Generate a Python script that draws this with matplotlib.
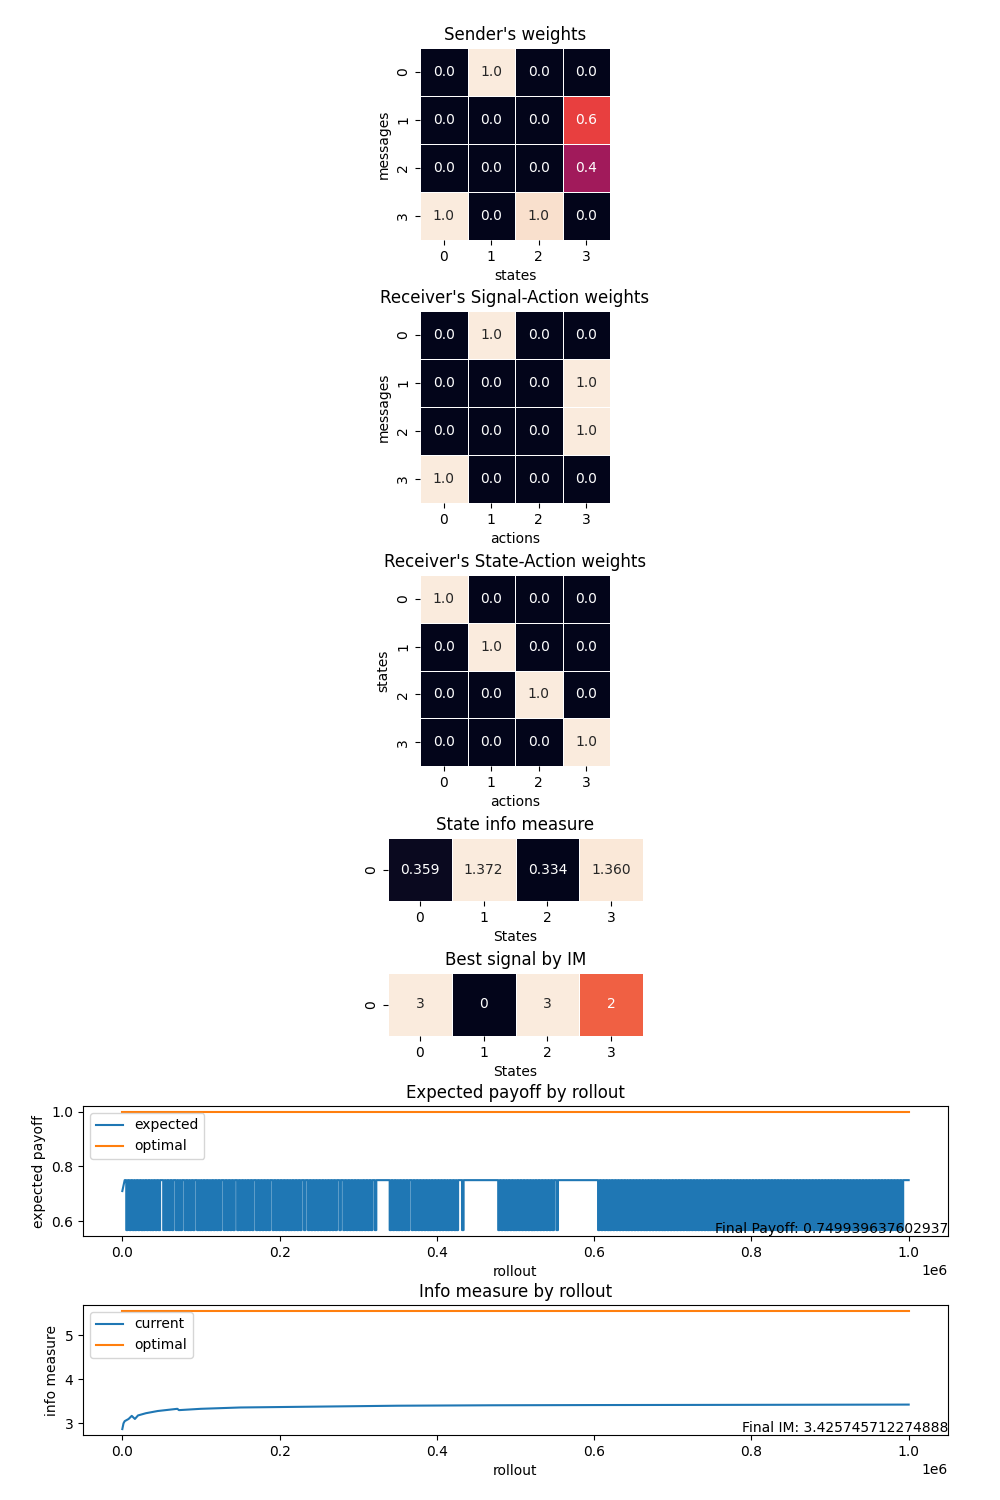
import numpy as np
import matplotlib
matplotlib.use("Agg")
import matplotlib.pyplot as plt
import seaborn as sns

sender_w = [[0.0, 1.0, 0.0, 0.0],
            [0.0, 0.0, 0.0, 0.6],
            [0.0, 0.0, 0.0, 0.4],
            [1.0, 0.0, 0.97, 0.0]]
recv_sig_act = [[0, 1, 0, 0], [0, 0, 0, 1], [0, 0, 0, 1], [1, 0, 0, 0]]
recv_state_act = [[1, 0, 0, 0], [0, 1, 0, 0], [0, 0, 1, 0], [0, 0, 0, 1]]
state_im = [[0.359, 1.372, 0.334, 1.360]]
best_signal = [[3, 0, 3, 2]]

# payoff: rollout (thousands) where the expected payoff dips to the low level
dip_starts_k = [5, 9, 13, 16, 20, 24, 27, 31, 35, 38, 42, 46, 52, 55, 59, 63, 68, 71, 74, 79,
                83, 86, 90, 95, 98, 101, 105, 109, 112, 116, 120, 124, 129, 133, 137, 141,
                146, 150, 154, 157, 161, 165, 170, 174, 178, 182, 186, 191, 195, 199, 203,
                207, 211, 214, 218, 222, 226, 231, 236, 240, 244, 248, 252, 256, 259, 263,
                267, 271, 276, 281, 285, 289, 293, 297, 301, 304, 308, 312, 316, 321, 340,
                344, 348, 351, 355, 359, 363, 368, 372, 376, 380, 384, 388, 391, 395, 399,
                403, 407, 411, 414, 418, 422, 425, 432, 478, 482, 486, 489, 493, 497, 500,
                504, 508, 512, 516, 520, 523, 527, 531, 535, 539, 543, 547, 552,
                605, 609, 613, 617, 620, 624, 628, 632, 636, 640, 643, 647, 651, 655, 659,
                663, 666, 670, 674, 678, 682, 686, 689, 693, 697, 701, 705, 709, 713, 717,
                720, 724, 728, 732, 736, 740, 744, 747, 751, 755, 759, 763, 767, 771, 775,
                779, 783, 787, 791, 795, 799, 803, 807, 811, 815, 819, 823, 827, 831, 835,
                839, 843, 847, 851, 855, 859, 863, 867, 871, 875, 879, 883, 887, 891, 895,
                899, 903, 907, 911, 915, 919, 923, 927, 931, 935, 939, 943, 947, 951, 955,
                959, 963, 967, 971, 975, 979, 983, 987, 991]
dip_len_k = 2
payoff_high = 0.75
payoff_low = 0.567
payoff_start = 0.71
final_payoff = 0.749939637602937

im_x = [0, 1500, 3000, 8000, 12000, 16000, 20000, 30000, 45000, 60000, 70000, 72000,
        100000, 150000, 250000, 350000, 470000, 600000, 800000, 1000000]
im_y = [2.87, 3.0, 3.05, 3.1, 3.17, 3.1, 3.18, 3.23, 3.28, 3.31, 3.33, 3.30,
        3.33, 3.36, 3.38, 3.40, 3.41, 3.415, 3.42, 3.4257]
im_optimal = 5.55
final_im = 3.425745712274888

fig = plt.figure(figsize=(10, 15), dpi=100)

def rect(x0, y0, x1, y1):
    return [x0 / 1000, 1 - y1 / 1500, (x1 - x0) / 1000, (y1 - y0) / 1500]

def hm(r, data, title, xl, yl, fmt, vmin=None, vmax=None):
    ax = fig.add_axes(rect(*r))
    sns.heatmap(data, ax=ax, annot=True, fmt=fmt, cbar=False, square=False,
                linewidths=0.5, linecolor="white", vmin=vmin, vmax=vmax)
    ax.set_title(title)
    ax.set_xlabel(xl)
    ax.set_ylabel(yl)

hm((420, 48, 610, 240), sender_w, "Sender's weights", "states", "messages", ".1f", 0, 1)
hm((420, 311, 610, 503), recv_sig_act, "Receiver's Signal-Action weights", "actions", "messages", ".1f", 0, 1)
hm((420, 575, 610, 766), recv_state_act, "Receiver's State-Action weights", "actions", "states", ".1f", 0, 1)
hm((388, 838, 643, 901), state_im, "State info measure", "States", "", ".3f")
hm((388, 973, 643, 1036), best_signal, "Best signal by IM", "States", "", "d")

xs = [0, 3000]
ys = [payoff_start, payoff_high]
for s in dip_starts_k:
    a = s * 1000
    xs += [a, a, a + dip_len_k * 1000, a + dip_len_k * 1000]
    ys += [payoff_high, payoff_low, payoff_low, payoff_high]
xs.append(1000000)
ys.append(payoff_high)
ax = fig.add_axes(rect(83, 1106, 948, 1236))
ax.plot(xs, ys, label="expected")
ax.plot([0, 1000000], [1.0, 1.0], label="optimal")
ax.set_title("Expected payoff by rollout")
ax.set_xlabel("rollout")
ax.set_ylabel("expected payoff")
ax.legend(loc="upper left")
ax.text(1, 0, f"Final Payoff: {final_payoff}", transform=ax.transAxes, ha="right", va="bottom")

ax = fig.add_axes(rect(83, 1305, 948, 1435))
ax.plot(im_x, im_y, label="current")
ax.plot([0, 1000000], [im_optimal, im_optimal], label="optimal")
ax.set_title("Info measure by rollout")
ax.set_xlabel("rollout")
ax.set_ylabel("info measure")
ax.legend(loc="upper left")
ax.text(1, 0, f"Final IM: {final_im}", transform=ax.transAxes, ha="right", va="bottom")

fig.savefig("out.png", dpi=100)
